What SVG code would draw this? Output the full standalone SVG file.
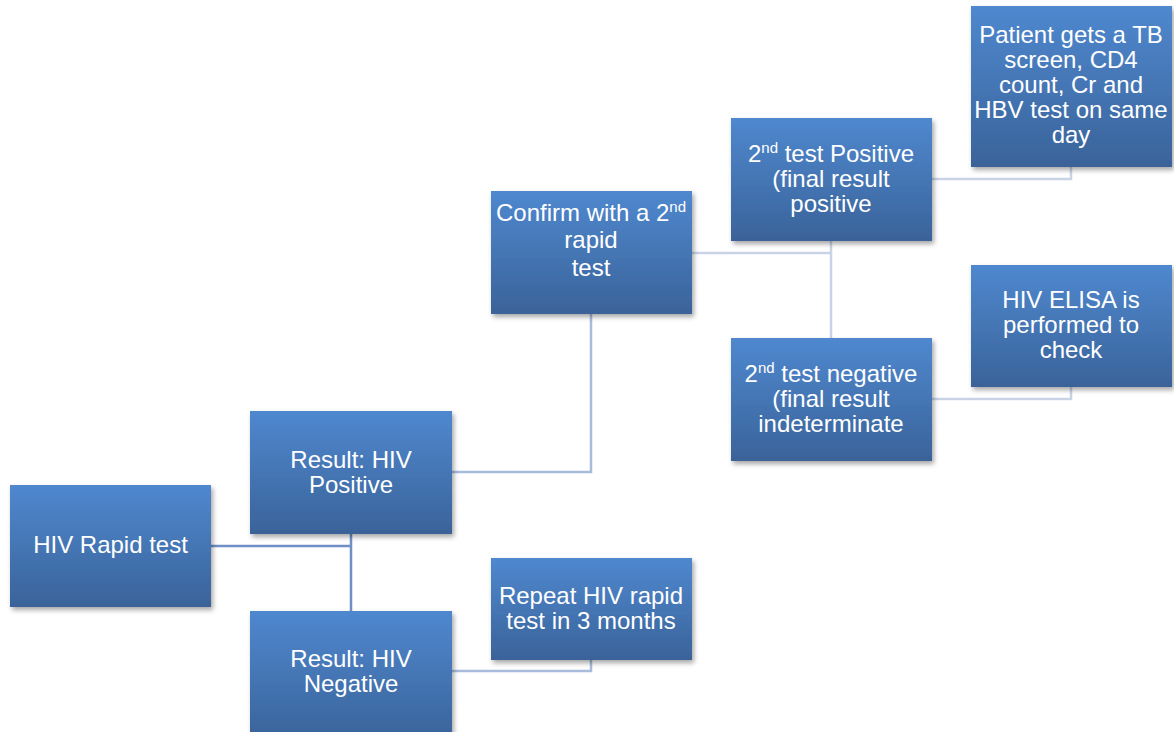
<svg xmlns="http://www.w3.org/2000/svg" width="1174" height="732" viewBox="0 0 1174 732">
<defs>
<linearGradient id="g" x1="0" y1="0" x2="0" y2="1">
<stop offset="0" stop-color="#4f88cf"/>
<stop offset="1" stop-color="#3a6399"/>
</linearGradient>
<filter id="sh" x="-10%" y="-10%" width="125%" height="130%">
<feDropShadow dx="2" dy="3" stdDeviation="2.5" flood-color="#000" flood-opacity="0.35"/>
</filter>
<style>
.box{fill:url(#g);filter:url(#sh)}
text{font-family:"Liberation Sans",Arial,sans-serif;font-size:24px;fill:#fff;text-anchor:middle}
.sup{font-size:15px}
.c1{stroke:#6f8fc6;stroke-width:2.5;fill:none}
.c2{stroke:#a9bbdb;stroke-width:2.5;fill:none}
.c3{stroke:#c9d3e6;stroke-width:2.5;fill:none}
</style>
</defs>
<g id="connectors">
<path class="c1" d="M211 546 H351 M351 534 V611"/>
<path class="c2" d="M452 472 H591 V314"/>
<path class="c2" d="M452 671 H591 V660"/>
<path class="c3" d="M692 253 H831 M831 241 V338"/>
<path class="c3" d="M932 179 H1071 V167"/>
<path class="c3" d="M932 399 H1071 V387"/>
</g>
<g id="n-rapid">
<rect class="box" x="10" y="485" width="201" height="122"/>
<text x="110.5" y="553">HIV Rapid test</text>
</g>
<g id="n-positive">
<rect class="box" x="250" y="411" width="202" height="123"/>
<text x="351" y="468">Result: HIV</text>
<text x="351" y="493">Positive</text>
</g>
<g id="n-negative">
<rect class="box" x="250" y="611" width="202" height="130"/>
<text x="351" y="667">Result: HIV</text>
<text x="351" y="692">Negative</text>
</g>
<g id="n-confirm">
<rect class="box" x="491" y="191" width="201" height="123"/>
<text x="591" y="221">Confirm with a 2<tspan class="sup" dy="-9">nd</tspan></text>
<text x="591" y="248">rapid</text>
<text x="591" y="276">test</text>
</g>
<g id="n-repeat">
<rect class="box" x="491" y="558" width="201" height="102"/>
<text x="591" y="604">Repeat HIV rapid</text>
<text x="591" y="629">test in 3 months</text>
</g>
<g id="n-2pos">
<rect class="box" x="731" y="118" width="201" height="123"/>
<text x="831" y="162">2<tspan class="sup" dy="-9">nd</tspan><tspan dy="9"> test Positive</tspan></text>
<text x="831" y="187">(final result</text>
<text x="831" y="212">positive</text>
</g>
<g id="n-2neg">
<rect class="box" x="731" y="338" width="201" height="123"/>
<text x="831" y="382">2<tspan class="sup" dy="-9">nd</tspan><tspan dy="9"> test negative</tspan></text>
<text x="831" y="407">(final result</text>
<text x="831" y="432">indeterminate</text>
</g>
<g id="n-patient">
<rect class="box" x="971" y="6" width="201" height="161"/>
<text x="1071" y="43">Patient gets a TB</text>
<text x="1071" y="68">screen, CD4</text>
<text x="1071" y="93">count, Cr and</text>
<text x="1071" y="118">HBV test on same</text>
<text x="1071" y="143">day</text>
</g>
<g id="n-elisa">
<rect class="box" x="971" y="265" width="201" height="122"/>
<text x="1071" y="308">HIV ELISA is</text>
<text x="1071" y="333">performed to</text>
<text x="1071" y="358">check</text>
</g>
</svg>
